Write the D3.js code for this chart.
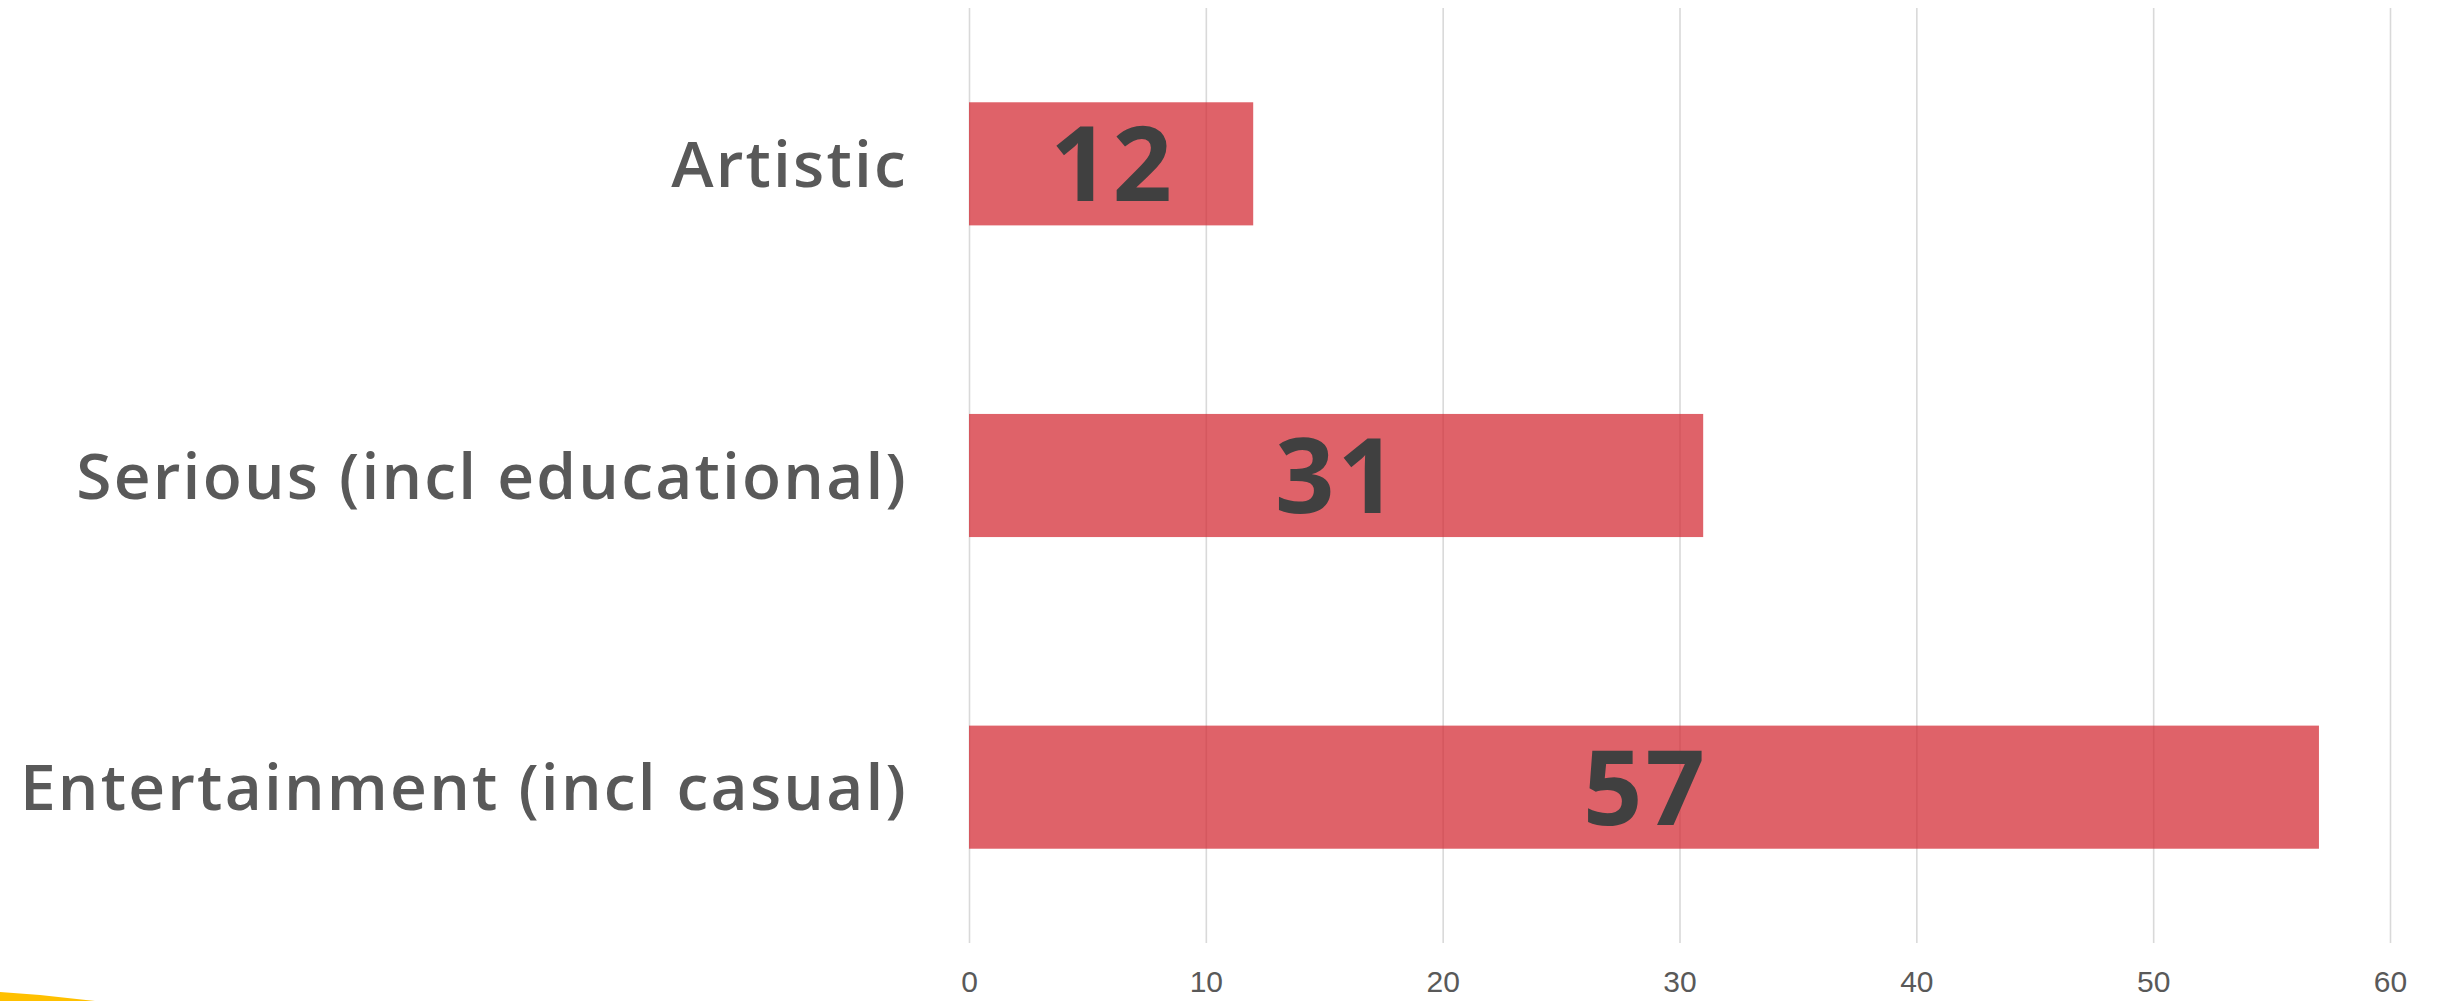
<!DOCTYPE html>
<html lang="en">
<head>
<meta charset="UTF-8">
<title>Bar chart</title>
<script src="https://d3js.org/d3.v7.min.js"></script>
<style>
  html, body { margin: 0; padding: 0; background: #fff; overflow: hidden; }
  .cat-label { font-family: "Open Sans", sans-serif; font-weight: 600; fill: #595959; letter-spacing: 2.2px; }
  .val-label { font-family: "Open Sans", sans-serif; font-weight: 700; fill: #404040; letter-spacing: 3px; }
  .tick text { font-family: "Liberation Sans", "Open Sans", sans-serif; fill: #595959; }
</style>
</head>
<body>
<div id="chart"></div>
<script>
// chart data
const categories = ["Artistic", "Serious (incl educational)", "Entertainment (incl casual)"];
const values = [12, 31, 57];
const tickValues = [0, 10, 20, 30, 40, 50, 60];

const W = 2438, H = 1001;
const plot = { left: 969, right: 2390, top: 8, bottom: 943 };

const svg = d3.select("#chart").append("svg")
    .attr("width", W)
    .attr("height", H);

// yellow decoration in the bottom-left corner
svg.append("path")
    .attr("d", "M0,992 L40,995 L95,1001 L0,1001 Z")
    .attr("fill", "#ffc000");

const x = d3.scaleLinear()
    .domain([0, 60])
    .range([plot.left, plot.right]);

const y = d3.scaleBand()
    .domain(categories)
    .range([plot.top, plot.bottom])
    .paddingInner(0.605)
    .paddingOuter(0.3025);

// grid + tick labels
const axis = svg.append("g")
    .attr("transform", `translate(0,${plot.bottom})`)
    .call(d3.axisBottom(x).tickValues(tickValues).tickSize(-(plot.bottom - plot.top)).tickPadding(28));
axis.select(".domain").remove();
axis.selectAll(".tick line").attr("stroke", "#d9d9d9").attr("stroke-width", 1.6);
axis.selectAll(".tick text").attr("font-size", 30);

// bars
svg.selectAll(".bar")
    .data(values)
    .enter()
    .append("rect")
    .attr("class", "bar")
    .attr("x", x(0))
    .attr("y", (d, i) => y(categories[i]))
    .attr("width", d => x(d) - x(0))
    .attr("height", y.bandwidth())
    .attr("fill", "#d2262f")
    .attr("fill-opacity", 0.72);

// value labels
svg.selectAll(".val-label")
    .data(values)
    .enter()
    .append("text")
    .attr("class", "val-label")
    .attr("x", d => (x(0) + x(d)) / 2 + 1.5)
    .attr("y", (d, i) => y(categories[i]) + y.bandwidth() / 2)
    .attr("dy", "0.36em")
    .attr("text-anchor", "middle")
    .attr("font-size", 104)
    .text(d => d);

// category labels
svg.selectAll(".cat-label")
    .data(categories)
    .enter()
    .append("text")
    .attr("class", "cat-label")
    .attr("x", 908)
    .attr("y", d => y(d) + y.bandwidth() / 2)
    .attr("dy", "0.36em")
    .attr("text-anchor", "end")
    .attr("font-size", 64)
    .text(d => d);
</script>
</body>
</html>
